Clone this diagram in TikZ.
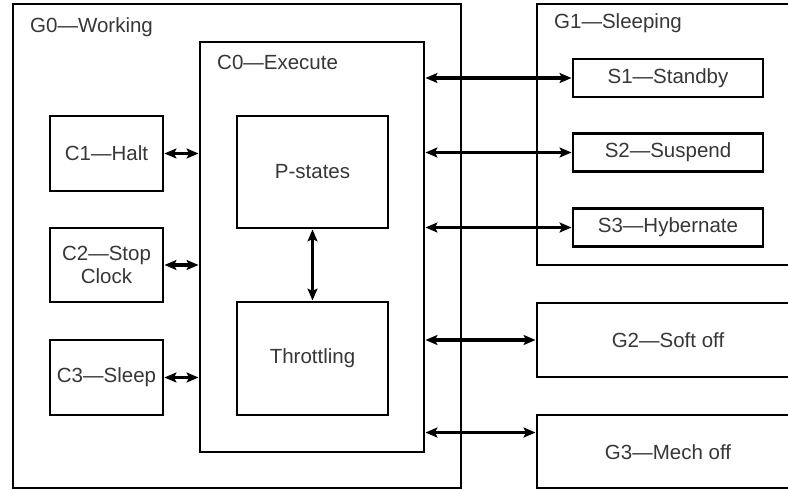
\documentclass[tikz,border=0pt]{standalone}
\usepackage{fontspec}
\setmainfont{Liberation Sans}
\usetikzlibrary{arrows.meta,calc}
\definecolor{txt}{RGB}{55,55,55}
\begin{document}
\begin{tikzpicture}[x=1pt,y=-1pt,
  box/.style={draw=black, line width=2.9pt, inner sep=0pt, text=txt,
    font=\fontsize{20.5}{22.5}\selectfont, align=center},
  txtnode/.style={inner sep=0pt, text=txt, font=\fontsize{20.5}{22.5}\selectfont},
  lbl/.style={txtnode, anchor=base west},
  arr/.style={line width=3.2pt,
    {Stealth[length=12pt,width=10pt,inset=2.5pt]}-{Stealth[length=12pt,width=10pt,inset=2.5pt]}}]
\useasboundingbox (0,0) rectangle (788,490);
\clip (0,0) rectangle (788,490);
\fill[white] (0,0) rectangle (788,490);

% group boxes
\node[box, minimum width=448pt, minimum height=484pt] (G0) at (237,246) {};
\node[lbl] (G0l) at (30,32) {G0—Working};
\node[box, minimum width=224pt, minimum height=410pt] (C0) at (312,247) {};
\node[lbl] (C0l) at (217,69) {C0—Execute};

\node[box, minimum width=283pt, minimum height=261pt] (G1) at (678.5,134.5) {};
\node[lbl] (G1l) at (554,28.5) {G1—Sleeping};

\node[box, minimum width=283pt, minimum height=74pt] (G2) at (678.5,340) {};
\node[txtnode] (G2t) at (668,340) {G2—Soft off};
\node[box, minimum width=283pt, minimum height=73pt] (G3) at (678.5,451.5) {};
\node[txtnode] (G3t) at (668,452) {G3—Mech off};

% C states
\node[box, minimum width=113pt, minimum height=75pt] (C1) at (106.5,153.5) {C1—Halt};
\node[box, minimum width=113pt, minimum height=74pt] (C2) at (106.5,265) {C2—Stop\\Clock};
\node[box, minimum width=113pt, minimum height=75pt] (C3) at (106.5,377.5) {C3—Sleep};

% inside C0
\node[box, minimum width=151pt, minimum height=112pt] (P) at (312.5,172) {P-states};
\node[box, minimum width=151pt, minimum height=113pt] (T) at (312.5,358.5) {Throttling};

% S states
\node[box, minimum width=190pt, minimum height=38pt] (S1) at (668,78) {S1—Standby};
\node[box, minimum width=190pt, minimum height=38pt] (S2) at (668,152.5) {S2—Suspend};
\node[box, minimum width=190pt, minimum height=38pt] (S3) at (668,227.5) {S3—Hybernate};

% connectors
\draw[arr] (C1.east) -- (C1.east -| C0.west);
\draw[arr] (C2.east) -- (C2.east -| C0.west);
\draw[arr] (C3.east) -- (C3.east -| C0.west);
\draw[arr] (P.south) -- (T.north);
\draw[arr] (S1.west -| C0.east) -- (S1.west);
\draw[arr] (S2.west -| C0.east) -- (S2.west);
\draw[arr] (S3.west -| C0.east) -- (S3.west);
\draw[arr] (G2.west -| C0.east) -- (G2.west);
\coordinate (g3in) at ($(G3.north west)!0.25!(G3.south west)$);
\draw[arr] (g3in -| C0.east) -- (g3in);
\end{tikzpicture}
\end{document}
